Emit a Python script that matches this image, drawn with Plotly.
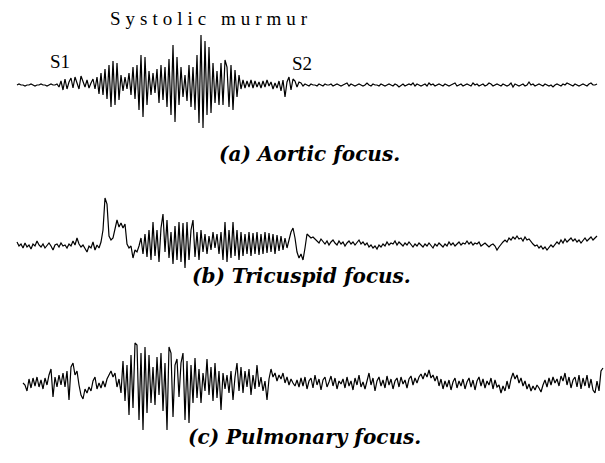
import numpy as np
import plotly.graph_objects as go

# ---- data (amplitudes, positive = up) ----
aortic = [0,1,0,0,-1,0,0,1,0,-1,0,0,1,0,0,-1,0,1,0,0,
          1,-2,4,-5,6,-4,3,7,-3,8,2,-4,9,3,-2,5,-3,2,6,-4,8,-9,
          12,-10,16,-14,20,-22,24,-20,22,-15,10,-6,8,-4,12,-10,18,-14,20,-25,
          30,-32,28,-20,14,-10,12,-8,16,-18,20,-15,18,-22,26,-30,40,-37,28,-20,
          18,-12,10,-16,20,-22,18,-25,30,-38,50,-43,44,-30,38,-28,22,-18,14,-20,
          22,-20,25,18,-22,20,-25,15,-12,10,-4,5,-3,4,-2,5,-3,4,-2,3,
          -3,4,-2,5,-1,3,-4,2,-3,4,-6,5,-12,3,8,-5,6,4,-2,3,
          2,-1,1,0,-1,1,0,0,-1,1,
          0,-1,1,0,0,1,-1,0,1,0,
          -1,0,1,2,-1,1,0,-1,0,1,
          0,-1,0,2,0,-1,1,0,0,-1,
          1,0,-1,0,1,0,-1,1,0,-2,
          0,1,-1,0,1,0,2,-1,1,0,
          -1,0,1,-1,2,0,1,-1,0,1,
          0,-1,1,0,-1,0,1,2,-1,0,
          1,-1,0,1,0,-1,2,0,1,-1,
          0,1,-1,0,2,1,-1,0,1,0,
          -1,1,0,-1,0,2,-2,1,0,-1,
          0,1,-1,0,3,0,1,-1,0,1,
          0,-1,1,0,-1,0,-2,0,1,0,
          -1,1,0,2,1,0,-1,1,0,-1,
          0,1,0,-1,1,2,0,0,1]

tricuspid = [0,-4,-2,-6,-1,-5,-3,-7,-2,-4,
             1,-3,-5,-2,-6,-3,-1,-4,-8,-3,
             -2,-5,-1,-4,-3,-6,-2,-4,1,-3,
             4,-2,-5,-3,-7,-10,-4,-6,0,-8,-3,-6,
             0,12,44,38,6,2,4,12,22,15,19,14,18,-2,-6,-4,-16,-8,-10,-4,
             4,-12,8,-15,12,-18,20,-14,12,-20,14,28,-10,22,-16,10,-22,16,-18,20,
             -20,19,-26,20,-18,12,22,-15,10,-18,12,-10,8,-12,6,-8,10,-6,8,-12,
             10,-18,20,-20,12,-16,20,-14,12,-18,10,-14,8,-12,10,-14,9,-12,10,-13,
             8,-12,10,-11,9,-10,8,-12,7,-9,6,-8,4,-6,3,10,14,4,-10,-16,
             -12,-18,-6,8,6,4,5,3,
             2,-1,3,0,-2,1,-3,0,2,-1,-3,1,-2,0,-4,-1,1,-2,0,-3,
             -1,2,-2,0,-3,-1,-5,-3,-6,-4,-7,-3,-5,-2,-4,0,-3,-1,-2,1,
             -3,0,-2,-4,-1,-3,0,-2,-5,-2,-4,-1,-3,-5,-2,-4,-1,-3,-6,-2,
             -4,-1,-3,-5,-2,-4,0,-3,-1,-4,-2,0,-3,-1,-2,1,-2,0,-3,-1,
             -2,0,-4,-2,-1,-3,-5,-3,-2,-4,-8,-5,-2,0,2,0,4,2,5,3,
             6,3,4,1,5,2,3,0,-2,-4,-3,-6,-4,-7,-5,-8,-6,-3,-5,-2,
             0,-2,2,-1,3,0,2,4,1,3,0,2,-1,2,4,1,3,5,2,4,6]

pulmonary = [0,-2,-8,4,-5,5,-3,6,-4,3,-6,5,-2,8,14,-14,6,-4,8,-2,
             10,-4,12,-17,16,20,8,12,-2,-12,-16,-6,-10,-4,-8,2,6,-6,0,-5,
             2,-4,4,8,12,6,10,-4,4,-10,22,-18,18,-32,28,-25,40,38,-37,30,
             -47,36,-30,28,-20,16,-22,26,-12,30,-28,20,-47,36,30,-34,18,24,-14,20,
             30,-37,22,-40,18,-20,25,-15,14,-20,10,-8,24,-12,16,-18,20,-15,12,-27,
             10,-6,8,-10,12,-17,6,20,-8,16,-10,12,-4,14,-12,8,-6,18,-4,6,
             -8,2,-17,4,14,6,10,2,8,4,10,0,6,-2,4,0,-3,3,-4,5,
             -3,6,-6,2,5,-5,8,-2,4,-7,3,6,-4,1,7,-3,5,-6,2,-1,
             4,-5,6,-3,2,-7,5,-2,8,-4,1,-6,3,10,-2,5,-8,2,6,-3,
             3,-5,7,-2,4,-6,2,5,-4,6,-1,3,-5,4,7,-2,5,0,6,9,
             4,10,6,13,5,8,2,7,-3,4,-6,2,-4,3,-7,1,5,-5,2,-3,
             4,-6,1,5,-4,3,-7,2,6,-3,4,-5,2,-2,5,-6,3,-4,-2,-10,
             -3,-8,2,-6,4,10,4,8,0,5,-3,2,-6,-1,-8,-3,-7,-2,-5,-9,
             -2,3,-4,5,-2,6,0,4,-3,7,2,10,-2,6,-5,3,6,-4,8,-6,
             5,-3,8,-5,4,-7,-10,2,-8,12,15]

captions = ["(a) Aortic focus.", "(b) Tricuspid focus.", "(c) Pulmonary focus."]
labels_a = ["S1", "Systolic murmur", "S2"]

# ---- layout constants (pixels) ----
W, H = 605, 463
series = [aortic, tricuspid, pulmonary]
starts = [17, 17, 23]
step = 2
centers = [85, 242, 383]
half = [55, 48, 50]

fig = go.Figure()
axes = ["y", "y2", "y3"]
for i, s in enumerate(series):
    x = starts[i] + step * np.arange(len(s))
    fig.add_trace(go.Scatter(x=x, y=s, mode="lines", yaxis=axes[i], xaxis="x",
                             line=dict(color="black", width=1.2),
                             hoverinfo="skip", showlegend=False))

layout = dict(width=W, height=H, margin=dict(l=0, r=0, t=0, b=0),
              paper_bgcolor="white", plot_bgcolor="white", showlegend=False,
              xaxis=dict(range=[0, W], domain=[0, 1], visible=False, fixedrange=True))
for i in range(3):
    top = centers[i] - half[i]
    bot = centers[i] + half[i]
    key = "yaxis" if i == 0 else f"yaxis{i+1}"
    layout[key] = dict(range=[-half[i], half[i]], domain=[(H - bot) / H, (H - top) / H],
                       visible=False, anchor="x", fixedrange=True)
fig.update_layout(**layout)

cap_font = "DejaVu Serif"
cap_pos = [(309, 154), (301, 276), (304, 437)]
for (cx, cy), t in zip(cap_pos, captions):
    fig.add_annotation(x=cx / W, y=(H - cy) / H, xref="paper", yref="paper",
                       text=f"<b><i>{t}</i></b>", showarrow=False,
                       font=dict(family=cap_font, size=20, color="black"),
                       xanchor="center", yanchor="middle")

serif = "Liberation Serif"
lab_pos = [(60, 61), (211, 18), (302, 63)]
for (cx, cy), t in zip(lab_pos, labels_a):
    txt = t if t != "Systolic murmur" else f'<span style="letter-spacing:5px">{t}</span>'
    fig.add_annotation(x=cx / W, y=(H - cy) / H, xref="paper", yref="paper",
                       text=txt, showarrow=False,
                       font=dict(family=serif, size=19, color="black"),
                       xanchor="center", yanchor="middle")

fig.write_html("out.html")
